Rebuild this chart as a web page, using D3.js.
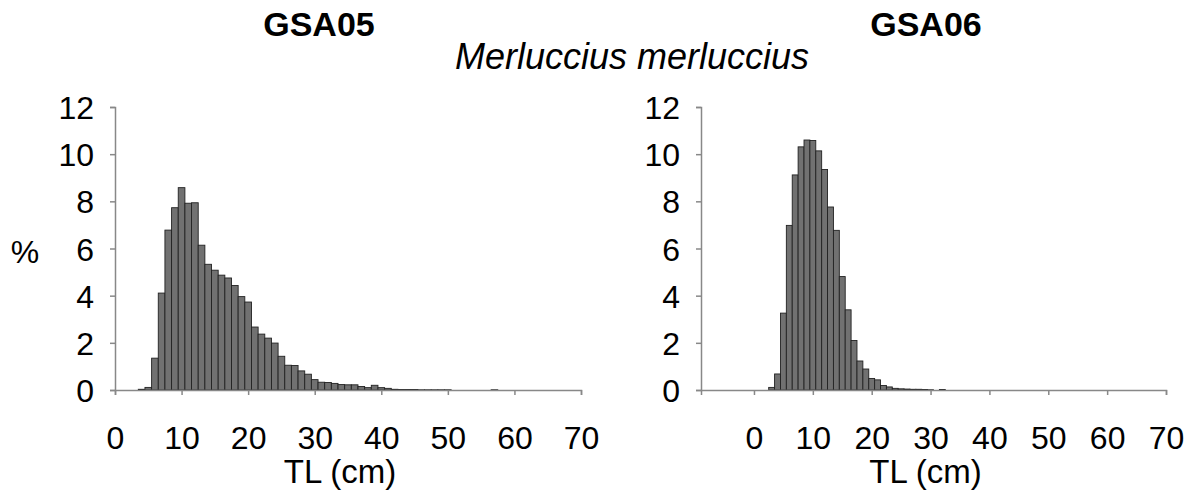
<!DOCTYPE html>
<html>
<head>
<meta charset="utf-8">
<script src="https://cdn.jsdelivr.net/npm/d3@7"></script>
<style>
  body { margin: 0; background: #fff; }
  svg text { font-family: "Liberation Sans", Arial, sans-serif; fill: #000; }
</style>
</head>
<body>
<div id="chart"></div>
<script>
const width = 1192;
const height = 492;

// length classes (cm, bin centred on the value) and % frequency
const lengthsA05 = [4, 5, 6, 7, 8, 9, 10, 11, 12, 13, 14, 15, 16, 17, 18, 19, 20, 21, 22, 23, 24, 25,
    26, 27, 28, 29, 30, 31, 32, 33, 34, 35, 36, 37, 38, 39, 40, 41, 42, 43, 44, 45, 46, 47, 48, 49, 50, 57];
const pctA05 = [0.03, 0.11, 1.35, 4.11, 6.78, 7.73, 8.58, 7.92, 7.94, 6.14, 5.33, 5.08, 4.87, 4.75, 4.43, 3.96, 3.73, 2.67, 2.37, 2.2, 1.99, 1.43,
    1.05, 1.04, 0.81, 0.67, 0.44, 0.33, 0.32, 0.28, 0.23, 0.22, 0.22, 0.15, 0.1, 0.2, 0.1, 0.07, 0.03, 0.02, 0.02, 0.02, 0.01, 0.01, 0.01, 0.01, 0.01, 0.01];

const lengthsA06 = [3, 4, 5, 6, 7, 8, 9, 10, 11, 12, 13, 14, 15, 16, 17, 18, 19, 20, 21, 22, 23, 24, 25, 26, 27, 28, 29, 30, 32];
const pctA06 = [0.11, 0.68, 3.26, 6.98, 9.12, 10.31, 10.6, 10.58, 10.14, 9.35, 7.76, 6.77, 4.81, 3.4, 2.1, 1.23, 0.89, 0.49, 0.43, 0.19, 0.13, 0.07, 0.05, 0.04, 0.03, 0.03, 0.02, 0.01, 0.02];

const xTicks = [0, 10, 20, 30, 40, 50, 60, 70];
const yTicks = [0, 2, 4, 6, 8, 10, 12];

const svg = d3.select("#chart")
    .append("svg")
    .attr("width", width)
    .attr("height", height);

const y = d3.scaleLinear().domain([0, 12]).range([390, 107]);

const panels = [
    { title: "GSA05", titleX: 319, lengths: lengthsA05, pct: pctA05, domain: [0, 70], range: [115, 581] },
    { title: "GSA06", titleX: 926, lengths: lengthsA06, pct: pctA06, domain: [-9, 70], range: [701, 1166] }
];

panels.forEach(p => {
    const x = d3.scaleLinear().domain(p.domain).range(p.range);
    const g = svg.append("g");
    const bins = p.lengths.map((l, i) => ({ l: l, v: p.pct[i] }));

    g.selectAll("rect")
        .data(bins)
        .enter()
        .append("rect")
        .attr("x", d => x(d.l - 0.5))
        .attr("width", d => x(d.l + 0.5) - x(d.l - 0.5))
        .attr("y", d => y(d.v))
        .attr("height", d => y(0) - y(d.v))
        .attr("fill", "#717171")
        .attr("stroke", "#222")
        .attr("stroke-width", 0.9);

    const xAxis = g.append("g")
        .attr("transform", `translate(0,${y(0)})`)
        .call(d3.axisBottom(x).tickValues(xTicks).tickSizeOuter(0).tickSize(5).tickPadding(31));
    xAxis.select(".domain").attr("stroke", "#888").attr("stroke-width", 1.5);
    xAxis.selectAll(".tick line").attr("stroke", "#888").attr("stroke-width", 1.5);
    xAxis.selectAll("text").attr("font-size", 32).attr("fill", "#000");

    const yAxis = g.append("g")
        .attr("transform", `translate(${p.range[0]},0)`)
        .call(d3.axisLeft(y).tickValues(yTicks).tickSizeOuter(0).tickSize(5).tickPadding(16));
    yAxis.select(".domain").attr("stroke", "#888").attr("stroke-width", 1.5);
    yAxis.selectAll(".tick line").attr("stroke", "#888").attr("stroke-width", 1.5);
    yAxis.selectAll("text").attr("font-size", 32).attr("fill", "#000").attr("dy", "0.36em");

    g.append("text")
        .attr("x", p.titleX)
        .attr("y", 36)
        .attr("text-anchor", "middle")
        .attr("font-size", 34)
        .attr("font-weight", "bold")
        .text(p.title);

    g.append("text")
        .attr("x", (p.range[0] + p.range[1]) / 2 - 8)
        .attr("y", 483)
        .attr("text-anchor", "middle")
        .attr("font-size", 33)
        .text("TL (cm)");
});

svg.append("text")
    .attr("x", 632)
    .attr("y", 69)
    .attr("text-anchor", "middle")
    .attr("font-size", 36)
    .attr("font-style", "italic")
    .text("Merluccius merluccius");

svg.append("text")
    .attr("x", 25)
    .attr("y", 263)
    .attr("text-anchor", "middle")
    .attr("font-size", 32)
    .text("%");
</script>
</body>
</html>
